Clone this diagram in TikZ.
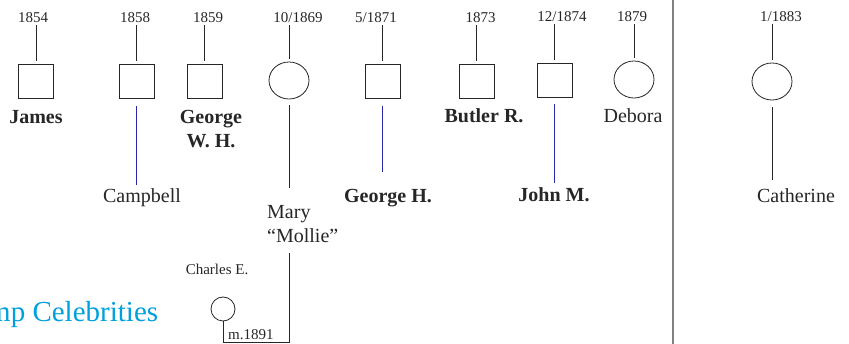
\documentclass[tikz,border=0pt]{standalone}
\usepackage{fontspec}
\setmainfont{Liberation Serif}
\usetikzlibrary{shapes.geometric, positioning, calc}
\definecolor{kidblue}{RGB}{40,40,170}
\definecolor{rulegrey}{RGB}{128,128,128}
\definecolor{celebblue}{RGB}{0,160,220}

\begin{document}
\begin{tikzpicture}[
    x=1pt, y=-1pt,
    male/.style={rectangle, draw=black!85, line width=0.8pt, minimum width=35pt, minimum height=34pt, inner sep=0pt},
    female/.style={ellipse, draw=black!85, line width=0.8pt, minimum width=40pt, minimum height=37pt, inner sep=0pt},
    datelabel/.style={font=\fontsize{15}{18}\selectfont, anchor=base, inner sep=2pt, text=black!85},
    namelabel/.style={font=\fontsize{20}{24}\selectfont, anchor=base, inner sep=2pt, align=center, text=black!85},
    boldlabel/.style={namelabel, font=\fontsize{20}{24}\selectfont\bfseries},
    smalllabel/.style={font=\fontsize{15}{18}\selectfont, anchor=base, inner sep=2pt, text=black!85},
    stem/.style={draw=black!85, line width=0.7pt},
    kidline/.style={draw=kidblue, line width=0.8pt}
]
    \useasboundingbox (0,0) rectangle (849,344);
    \clip (0,0) rectangle (849,344);

    % Children of the first marriage
    \node[male] (james) at (36,81) {};
    \node[datelabel] (jamesdate) at (33,23) {1854};
    \node[boldlabel] (jamesname) at (36,124) {James};

    \node[male] (campbell) at (136.5,81) {};
    \node[datelabel] (campbelldate) at (135,23) {1858};
    \node[namelabel] (campbellname) at (142,203) {Campbell};

    \node[male] (georgewh) at (204.5,81) {};
    \node[datelabel] (georgewhdate) at (208,23) {1859};
    \node[boldlabel] (georgewhname) at (211,148) {George\\W. H.};

    \node[female] (mary) at (289,80.5) {};
    \node[datelabel] (marydate) at (298,23) {10/1869};
    \node[namelabel, align=left, anchor=base west] (maryname) at (265,243) {Mary\\“Mollie”};

    \node[male] (georgeh) at (382.5,81) {};
    \node[datelabel] (georgehdate) at (376,22.5) {5/1871};
    \node[boldlabel] (georgehname) at (388,203) {George H.};

    \node[male] (butler) at (476.5,81) {};
    \node[datelabel] (butlerdate) at (480.5,23) {1873};
    \node[boldlabel] (butlername) at (484,123) {Butler R.};

    \node[male] (john) at (554.8,80) {};
    \node[datelabel] (johndate) at (562,22) {12/1874};
    \node[boldlabel] (johnname) at (554,202) {John M.};

    \node[female] (debora) at (634,79.5) {};
    \node[datelabel] (deboradate) at (632,22) {1879};
    \node[namelabel] (deboraname) at (633,123) {Debora};

    % Second marriage
    \coordinate (ruletop) at (673,0);
    \coordinate (rulebottom) at (673,344);
    \draw[rulegrey, line width=2pt] (ruletop) -- (rulebottom);

    \node[female] (catherine) at (772,81.5) {};
    \node[datelabel] (catherinedate) at (781,22) {1/1883};
    \node[namelabel] (catherinename) at (796,203) {Catherine};

    % Mary's husband
    \node[circle, draw=black!85, line width=0.8pt, minimum size=24pt, inner sep=0pt] (charles) at (223,309) {};
    \node[smalllabel] (charlesname) at (217,275) {Charles E.};
    \node[smalllabel, anchor=base west] (marriage) at (226,340) {m.1891};

    \node[anchor=base west, inner sep=0pt, text=celebblue, font=\fontsize{29}{34}\selectfont] (campname) at (-12,322) {mp Celebrities};

    % Birth stems
    \foreach \kid in {james, campbell, georgewh, mary, georgeh, butler, john, debora, catherine}
        \draw[stem, shorten <=3pt] (\kid.north) -- (\kid.north |- \kid date.south);

    % Lines down to the names
    \draw[kidline, shorten <=8pt, shorten >=2pt] (campbell.south) -- (campbell.south |- campbellname.north);
    \draw[stem, shorten <=6pt, shorten >=16pt] (mary.south) -- (mary.south |- maryname.north);
    \draw[kidline, shorten <=8pt, shorten >=16pt] (georgeh.south) -- (georgeh.south |- georgehname.north);
    \draw[kidline, shorten <=7pt, shorten >=3pt] (john.south) -- (john.south |- johnname.north);
    \draw[stem, shorten <=7pt, shorten >=7pt] (catherine.south) -- (catherine.south |- catherinename.north);

    % Marriage bracket
    \draw[stem] (charles.south) -- ++(0,21) -| ([yshift=-8pt]mary.south |- maryname.south);

\end{tikzpicture}
\end{document}
